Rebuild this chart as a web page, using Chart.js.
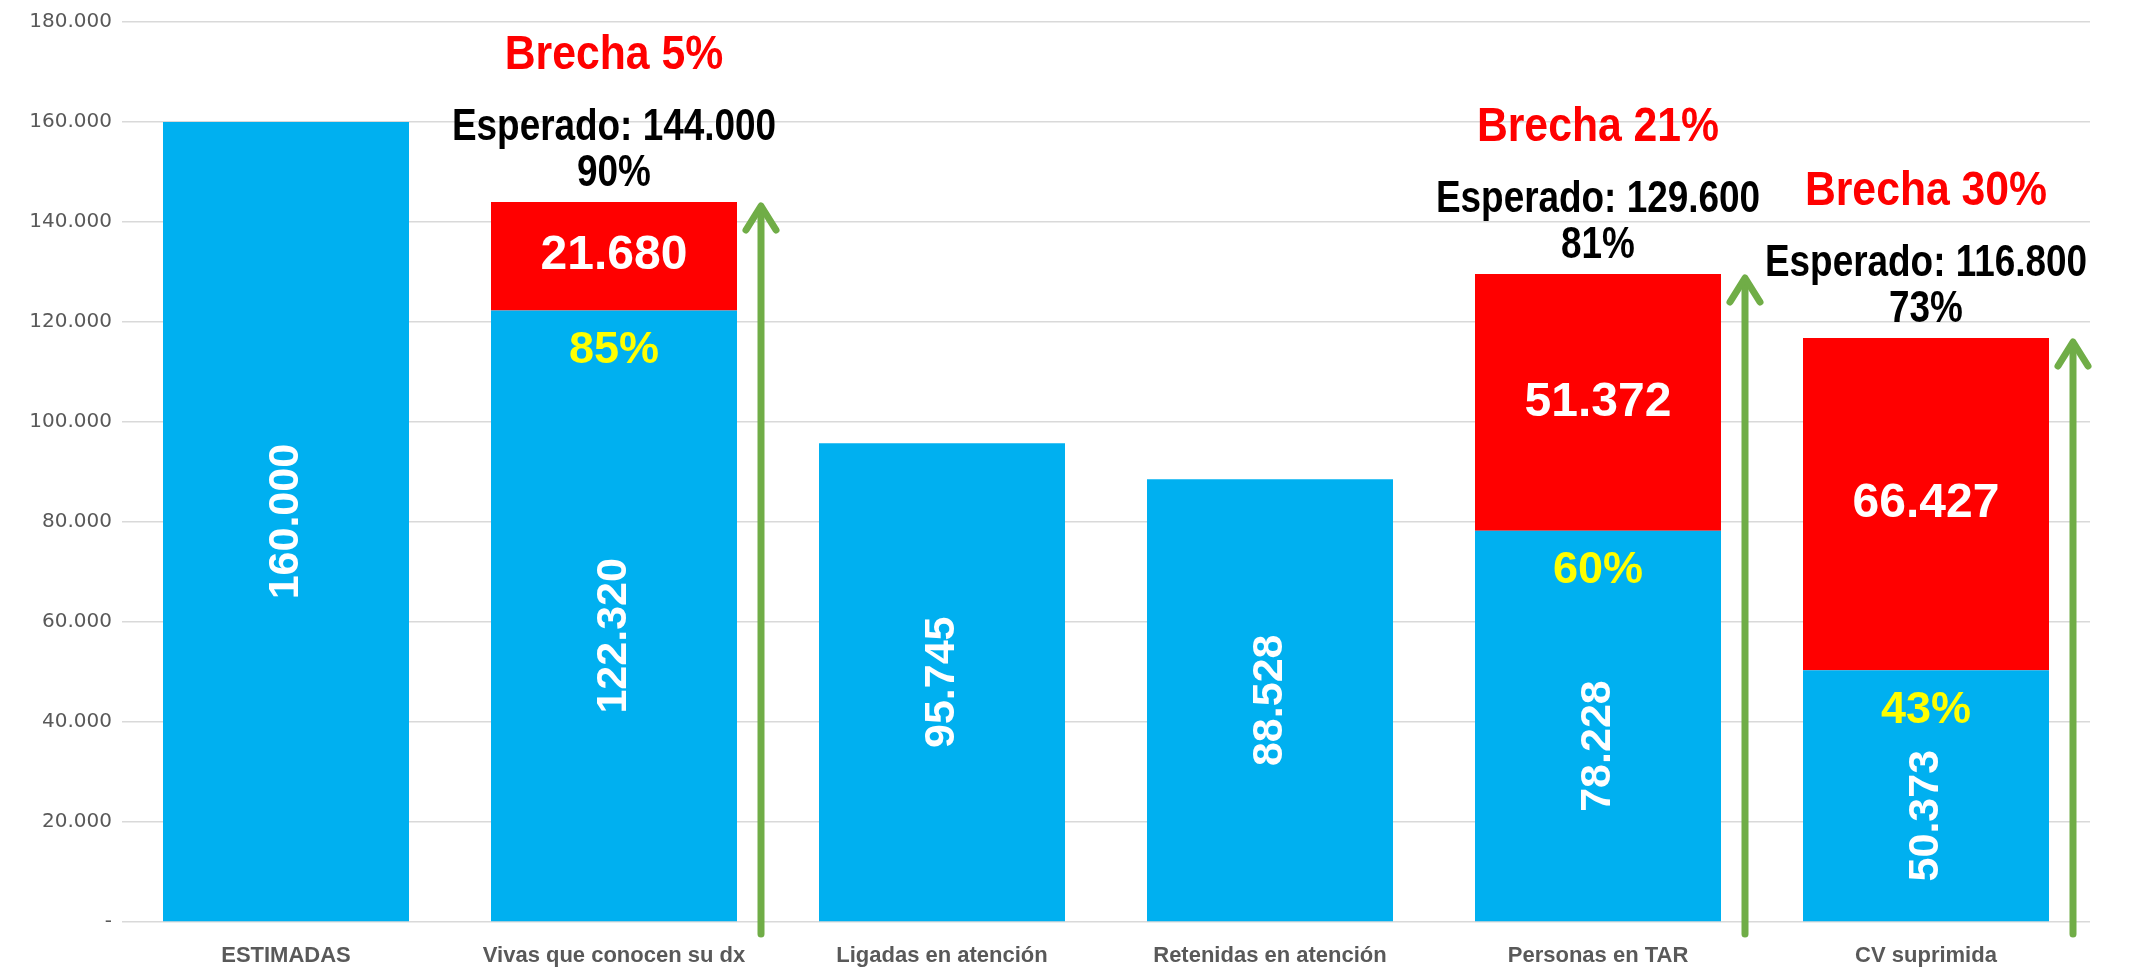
<!DOCTYPE html>
<html>
<head>
<meta charset="utf-8">
<script src="https://cdn.jsdelivr.net/npm/chart.js@4.4.1/dist/chart.umd.min.js"></script>
<style>
  html, body { margin: 0; padding: 0; background: #fff; }
  #wrap { width: 2133px; height: 970px; position: relative; }
</style>
</head>
<body>
<div id="wrap"><canvas id="cascadeChart"></canvas></div>
<script>
// datos de la cascada
const categories = ['ESTIMADAS', 'Vivas que conocen su dx', 'Ligadas en atención', 'Retenidas en atención', 'Personas en TAR', 'CV suprimida'];
const reached = [160000, 122320, 95745, 88528, 78228, 50373];
const gap = [0, 21680, 0, 0, 51372, 66427];
const reachedPct = ['', '85%', '', '', '60%', '43%'];
const expectedPct = ['', '90%', '', '', '81%', '73%'];
const gapPct = ['', '5%', '', '', '21%', '30%'];
const yTicks = [0, 20000, 40000, 60000, 80000, 100000, 120000, 140000, 160000, 180000];

const BLUE = '#00B0F0';
const RED = '#FF0000';
const GREEN = '#70AD47';
const SANS = '"Liberation Sans", Arial, sans-serif';

function fmt(n) {
    return String(n).replace(/\B(?=(\d{3})+(?!\d))/g, '.');
}

function narrowText(ctx, text, x, y, font, color, squeeze) {
    ctx.save();
    ctx.translate(x, y);
    ctx.scale(squeeze, 1);
    ctx.font = font;
    ctx.fillStyle = color;
    ctx.textAlign = 'center';
    ctx.textBaseline = 'middle';
    ctx.fillText(text, 0, 0);
    ctx.restore();
}

const labelsPlugin = {
    id: 'cascadeLabels',
    afterDatasetsDraw(chart) {
        const ctx = chart.ctx;
        const yScale = chart.scales.y;
        const blue = chart.getDatasetMeta(0).data;
        const red = chart.getDatasetMeta(1).data;

        blue.forEach((bar, i) => {
            // valor rotado dentro de la barra azul (debajo del % si lo hay)
            const mid = reachedPct[i] ? (bar.y + 40 + bar.base) / 2 : (bar.y + bar.base) / 2;
            ctx.save();
            ctx.translate(bar.x, mid);
            ctx.rotate(-Math.PI / 2);
            ctx.font = 'bold 43px ' + SANS;
            ctx.fillStyle = '#FFFFFF';
            ctx.textAlign = 'center';
            ctx.textBaseline = 'middle';
            ctx.fillText(fmt(reached[i]), 0, 0);
            ctx.restore();

            if (!gap[i]) return;

            const r = red[i];
            ctx.save();
            ctx.font = 'bold 48px ' + SANS;
            ctx.fillStyle = '#FFFFFF';
            ctx.textAlign = 'center';
            ctx.textBaseline = 'middle';
            ctx.fillText(fmt(gap[i]), r.x, (r.y + r.base) / 2);
            ctx.font = 'bold 45px ' + SANS;
            ctx.fillStyle = '#FFFF00';
            ctx.fillText(reachedPct[i], bar.x, bar.y + 40);
            ctx.restore();

            // textos sobre la barra
            const top = yScale.getPixelForValue(reached[i] + gap[i]);
            narrowText(ctx, expectedPct[i], bar.x, top - 28, 'bold 45px ' + SANS, '#000000', 0.82);
            narrowText(ctx, 'Esperado: ' + fmt(reached[i] + gap[i]), bar.x, top - 74, 'bold 45px ' + SANS, '#000000', 0.82);
            narrowText(ctx, 'Brecha ' + gapPct[i], bar.x, top - 146, 'bold 48px ' + SANS, RED, 0.89);

            // flecha verde
            const ax = bar.x + 147;
            const bottom = yScale.getPixelForValue(0) + 12;
            ctx.save();
            ctx.strokeStyle = GREEN;
            ctx.lineWidth = 7;
            ctx.lineCap = 'round';
            ctx.lineJoin = 'round';
            ctx.beginPath();
            ctx.moveTo(ax, bottom);
            ctx.lineTo(ax, top + 6);
            ctx.stroke();
            ctx.beginPath();
            ctx.moveTo(ax - 15, top + 28);
            ctx.lineTo(ax, top + 4);
            ctx.lineTo(ax + 15, top + 28);
            ctx.stroke();
            ctx.restore();
        });
    }
};

const ctx = document.getElementById('cascadeChart').getContext('2d');
const chart = new Chart(ctx, {
    type: 'bar',
    data: {
        labels: categories,
        datasets: [
            {
                label: 'Alcanzado',
                data: reached,
                backgroundColor: BLUE,
                borderWidth: 0,
                barPercentage: 0.75,
                categoryPercentage: 1
            },
            {
                label: 'Brecha',
                data: gap,
                backgroundColor: RED,
                borderWidth: 0,
                barPercentage: 0.75,
                categoryPercentage: 1
            }
        ]
    },
    options: {
        responsive: true,
        maintainAspectRatio: false,
        animation: false,
        layout: {
            padding: { top: 16, right: 43, bottom: 0, left: 0 }
        },
        plugins: {
            legend: { display: false },
            tooltip: { enabled: false }
        },
        scales: {
            x: {
                stacked: true,
                grid: { display: false, drawTicks: false },
                border: { display: false },
                ticks: {
                    color: '#595959',
                    padding: 21,
                    font: { family: SANS, size: 22, weight: 'bold' }
                },
                afterFit(scale) { scale.height = 48; }
            },
            y: {
                stacked: true,
                min: 0,
                max: 180000,
                afterBuildTicks(scale) {
                    scale.ticks = yTicks.map(v => ({ value: v }));
                },
                grid: {
                    color: '#D9D9D9',
                    lineWidth: 1.5,
                    drawTicks: false
                },
                border: { display: false },
                ticks: {
                    color: '#595959',
                    padding: 10,
                    font: { family: '"DejaVu Sans", sans-serif', size: 20 },
                    callback: v => v === 0 ? '-' : fmt(v)
                },
                afterFit(scale) { scale.width = 122; }
            }
        }
    },
    plugins: [labelsPlugin]
});
</script>
</body>
</html>
